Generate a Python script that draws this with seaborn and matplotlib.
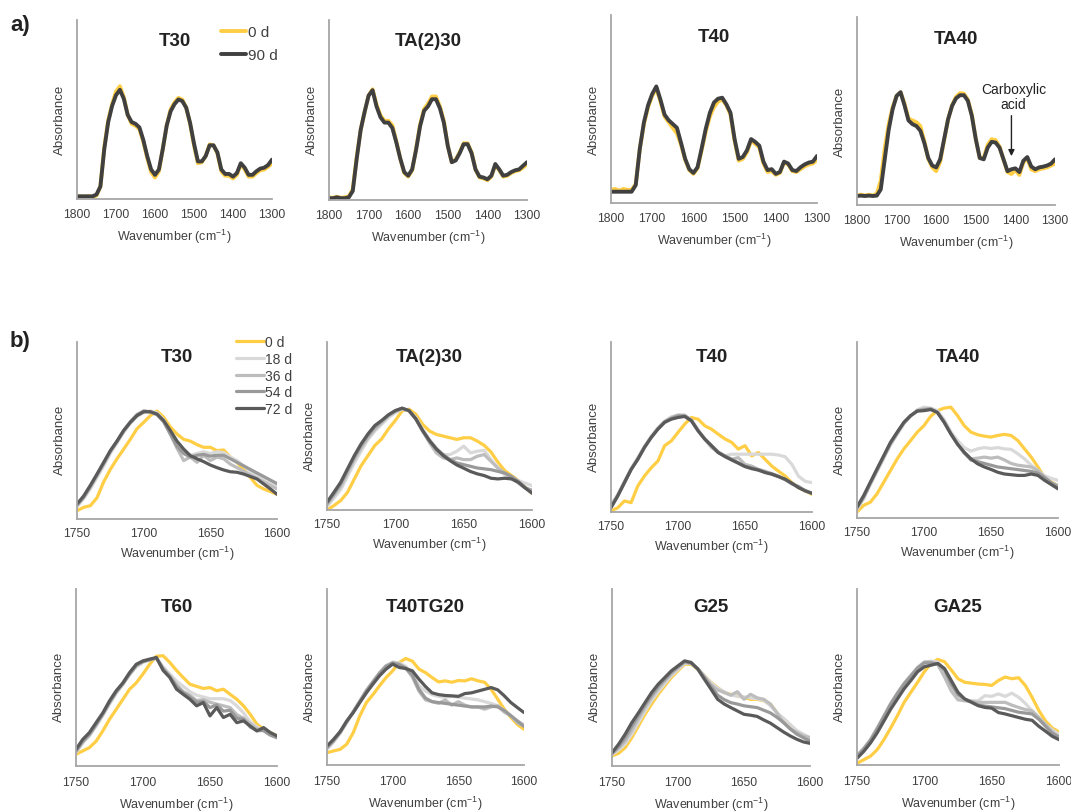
import numpy as np
import matplotlib
matplotlib.use("Agg")
import matplotlib.pyplot as plt
import seaborn as sns

# ---------------- data ----------------
WN_A = np.arange(1800, 1299, -10)   # panel a wavenumbers
WN_B = np.arange(1750, 1599, -5)    # panel b wavenumbers

TITLES_A = ["T30", "TA(2)30", "T40", "TA40"]
LABELS_A = ["0 d", "90 d"]

T30_0d = [0.015, 0.015, 0.012, 0.015, 0.012, 0.02, 0.07, 0.29, 0.44, 0.53, 0.60, 0.63, 0.57, 0.47, 0.42, 0.41, 0.39, 0.32, 0.23, 0.15, 0.12,
          0.155, 0.28, 0.41, 0.50, 0.54, 0.565, 0.555, 0.51, 0.42, 0.30, 0.20, 0.205, 0.24, 0.305, 0.30, 0.255, 0.155, 0.13, 0.13, 0.115,
          0.135, 0.195, 0.165, 0.125, 0.125, 0.145, 0.16, 0.165, 0.18, 0.20]
T30_90d = [0.015, 0.015, 0.015, 0.015, 0.015, 0.025, 0.07, 0.28, 0.43, 0.52, 0.58, 0.61, 0.56, 0.47, 0.43, 0.42, 0.40, 0.33, 0.24, 0.165, 0.135,
           0.165, 0.28, 0.41, 0.49, 0.53, 0.556, 0.547, 0.51, 0.425, 0.31, 0.21, 0.21, 0.24, 0.30, 0.30, 0.26, 0.165, 0.14, 0.14, 0.125,
           0.145, 0.20, 0.175, 0.135, 0.135, 0.155, 0.17, 0.175, 0.19, 0.22]
TA230_0d = [0.015, 0.012, 0.018, 0.012, 0.015, 0.02, 0.06, 0.24, 0.39, 0.49, 0.58, 0.615, 0.53, 0.47, 0.44, 0.44, 0.415, 0.325, 0.23, 0.15, 0.13,
            0.165, 0.285, 0.42, 0.505, 0.535, 0.575, 0.575, 0.52, 0.44, 0.30, 0.21, 0.225, 0.265, 0.315, 0.315, 0.265, 0.17, 0.125, 0.12, 0.11,
            0.13, 0.195, 0.165, 0.13, 0.135, 0.15, 0.16, 0.165, 0.18, 0.20]
TA230_90d = [0.01, 0.01, 0.015, 0.01, 0.01, 0.015, 0.05, 0.23, 0.39, 0.49, 0.58, 0.61, 0.52, 0.46, 0.43, 0.43, 0.40, 0.32, 0.23, 0.155, 0.135,
             0.17, 0.28, 0.41, 0.495, 0.52, 0.56, 0.56, 0.51, 0.43, 0.30, 0.21, 0.22, 0.26, 0.31, 0.31, 0.26, 0.17, 0.13, 0.125, 0.115,
             0.135, 0.20, 0.17, 0.135, 0.14, 0.155, 0.165, 0.17, 0.19, 0.21]
T40_0d = [0.07, 0.075, 0.065, 0.075, 0.07, 0.07, 0.10, 0.29, 0.42, 0.51, 0.57, 0.61, 0.54, 0.46, 0.43, 0.40, 0.37, 0.31, 0.23, 0.175, 0.155,
          0.185, 0.28, 0.38, 0.46, 0.51, 0.54, 0.55, 0.52, 0.47, 0.33, 0.225, 0.235, 0.27, 0.33, 0.315, 0.295, 0.21, 0.165, 0.17, 0.15,
          0.16, 0.215, 0.205, 0.17, 0.165, 0.18, 0.195, 0.205, 0.21, 0.23]
T40_90d = [0.06, 0.06, 0.06, 0.06, 0.06, 0.06, 0.095, 0.29, 0.43, 0.52, 0.58, 0.62, 0.55, 0.47, 0.44, 0.42, 0.40, 0.32, 0.235, 0.18, 0.16,
           0.19, 0.29, 0.395, 0.48, 0.535, 0.555, 0.56, 0.525, 0.48, 0.34, 0.235, 0.245, 0.28, 0.34, 0.325, 0.305, 0.22, 0.175, 0.18, 0.155,
           0.165, 0.22, 0.21, 0.175, 0.17, 0.19, 0.205, 0.215, 0.22, 0.25]
TA40_0d = [0.05, 0.055, 0.05, 0.055, 0.05, 0.06, 0.13, 0.30, 0.43, 0.52, 0.58, 0.60, 0.54, 0.46, 0.45, 0.44, 0.42, 0.34, 0.245, 0.2, 0.18,
           0.23, 0.345, 0.455, 0.53, 0.575, 0.595, 0.592, 0.56, 0.48, 0.35, 0.25, 0.25, 0.32, 0.35, 0.345, 0.31, 0.24, 0.175, 0.165, 0.185,
           0.16, 0.225, 0.25, 0.19, 0.18, 0.19, 0.195, 0.20, 0.21, 0.22]
TA40_90d = [0.048, 0.05, 0.048, 0.05, 0.048, 0.05, 0.083, 0.243, 0.40, 0.51, 0.58, 0.60, 0.53, 0.45, 0.43, 0.42, 0.395, 0.33, 0.25, 0.21, 0.20,
            0.243, 0.35, 0.456, 0.527, 0.567, 0.584, 0.584, 0.554, 0.474, 0.35, 0.25, 0.243, 0.305, 0.336, 0.332, 0.305, 0.243, 0.18, 0.19, 0.195,
            0.175, 0.235, 0.255, 0.205, 0.19, 0.20, 0.204, 0.21, 0.22, 0.243]

SERIES_A = [[T30_0d, T30_90d], [TA230_0d, TA230_90d], [T40_0d, T40_90d], [TA40_0d, TA40_90d]]

TITLES_B = ["T30", "TA(2)30", "T40", "TA40", "T60", "T40TG20", "G25", "GA25"]
LABELS_B = ["0 d", "18 d", "36 d", "54 d", "72 d"]

T30_b = [
    [0.047, 0.066, 0.075, 0.12, 0.21, 0.28, 0.34, 0.395, 0.45, 0.51, 0.546, 0.584, 0.61, 0.575, 0.52, 0.48, 0.45, 0.44, 0.42, 0.405, 0.405, 0.386, 0.39, 0.35, 0.32, 0.28, 0.235, 0.19, 0.17, 0.155, 0.14],
    [0.07, 0.115, 0.17, 0.235, 0.30, 0.37, 0.43, 0.49, 0.54, 0.58, 0.60, 0.61, 0.60, 0.56, 0.49, 0.43, 0.38, 0.36, 0.37, 0.38, 0.37, 0.38, 0.375, 0.35, 0.33, 0.30, 0.27, 0.245, 0.22, 0.20, 0.18],
    [0.075, 0.12, 0.18, 0.245, 0.31, 0.38, 0.435, 0.495, 0.545, 0.585, 0.61, 0.605, 0.59, 0.55, 0.48, 0.40, 0.33, 0.35, 0.32, 0.36, 0.33, 0.35, 0.34, 0.31, 0.29, 0.27, 0.25, 0.23, 0.21, 0.19, 0.17],
    [0.08, 0.125, 0.185, 0.25, 0.315, 0.385, 0.44, 0.50, 0.55, 0.59, 0.61, 0.605, 0.59, 0.55, 0.48, 0.41, 0.37, 0.35, 0.36, 0.365, 0.355, 0.36, 0.36, 0.34, 0.32, 0.30, 0.28, 0.26, 0.24, 0.22, 0.20],
    [0.085, 0.13, 0.19, 0.254, 0.32, 0.386, 0.44, 0.50, 0.546, 0.584, 0.606, 0.606, 0.593, 0.556, 0.50, 0.44, 0.395, 0.358, 0.34, 0.324, 0.305, 0.29, 0.277, 0.267, 0.264, 0.254, 0.24, 0.226, 0.198, 0.17, 0.14],
]
TA230_b = [
    [0.0, 0.026, 0.056, 0.105, 0.185, 0.264, 0.324, 0.384, 0.423, 0.483, 0.533, 0.59, 0.60, 0.57, 0.51, 0.47, 0.45, 0.44, 0.43, 0.42, 0.43, 0.43, 0.41, 0.385, 0.345, 0.285, 0.235, 0.205, 0.175, 0.135, 0.10],
    [0.02, 0.07, 0.12, 0.20, 0.28, 0.35, 0.42, 0.47, 0.51, 0.55, 0.58, 0.60, 0.59, 0.55, 0.48, 0.42, 0.37, 0.33, 0.33, 0.35, 0.38, 0.34, 0.35, 0.355, 0.30, 0.25, 0.21, 0.19, 0.175, 0.16, 0.145],
    [0.03, 0.085, 0.14, 0.22, 0.30, 0.37, 0.43, 0.48, 0.52, 0.56, 0.585, 0.605, 0.59, 0.545, 0.47, 0.40, 0.34, 0.31, 0.30, 0.31, 0.30, 0.30, 0.32, 0.33, 0.29, 0.25, 0.22, 0.19, 0.16, 0.13, 0.12],
    [0.04, 0.095, 0.155, 0.235, 0.315, 0.385, 0.445, 0.495, 0.53, 0.565, 0.59, 0.606, 0.59, 0.54, 0.47, 0.41, 0.36, 0.33, 0.30, 0.28, 0.27, 0.26, 0.25, 0.245, 0.24, 0.23, 0.22, 0.20, 0.17, 0.135, 0.11],
    [0.046, 0.105, 0.165, 0.245, 0.324, 0.394, 0.453, 0.503, 0.533, 0.567, 0.592, 0.606, 0.592, 0.543, 0.473, 0.413, 0.364, 0.324, 0.294, 0.268, 0.249, 0.229, 0.215, 0.205, 0.189, 0.185, 0.189, 0.185, 0.165, 0.131, 0.10],
]
T40_b = [
    [0.006, 0.025, 0.065, 0.055, 0.153, 0.212, 0.26, 0.30, 0.39, 0.418, 0.468, 0.517, 0.556, 0.546, 0.507, 0.487, 0.458, 0.43, 0.41, 0.37, 0.39, 0.33, 0.35, 0.31, 0.27, 0.24, 0.212, 0.173, 0.143, 0.124, 0.104],
    [0.04, 0.10, 0.18, 0.255, 0.32, 0.385, 0.445, 0.495, 0.535, 0.56, 0.57, 0.565, 0.54, 0.48, 0.43, 0.39, 0.355, 0.33, 0.34, 0.34, 0.34, 0.34, 0.34, 0.34, 0.34, 0.335, 0.325, 0.28, 0.21, 0.18, 0.173],
    [0.035, 0.10, 0.175, 0.25, 0.315, 0.385, 0.44, 0.49, 0.53, 0.555, 0.57, 0.57, 0.54, 0.48, 0.43, 0.38, 0.35, 0.33, 0.31, 0.32, 0.28, 0.27, 0.25, 0.24, 0.225, 0.21, 0.19, 0.17, 0.145, 0.125, 0.11],
    [0.03, 0.095, 0.17, 0.25, 0.31, 0.38, 0.44, 0.49, 0.53, 0.55, 0.565, 0.565, 0.54, 0.48, 0.43, 0.39, 0.35, 0.33, 0.31, 0.29, 0.27, 0.26, 0.25, 0.235, 0.225, 0.21, 0.19, 0.165, 0.15, 0.125, 0.11],
    [0.025, 0.094, 0.173, 0.25, 0.31, 0.38, 0.438, 0.487, 0.527, 0.546, 0.556, 0.562, 0.536, 0.477, 0.428, 0.39, 0.35, 0.326, 0.306, 0.287, 0.267, 0.255, 0.246, 0.232, 0.222, 0.208, 0.193, 0.169, 0.143, 0.124, 0.11],
]
TA40_b = [
    [0.034, 0.072, 0.09, 0.138, 0.204, 0.27, 0.336, 0.393, 0.44, 0.488, 0.525, 0.578, 0.61, 0.624, 0.63, 0.582, 0.525, 0.488, 0.473, 0.465, 0.46, 0.469, 0.475, 0.469, 0.44, 0.393, 0.346, 0.29, 0.232, 0.204, 0.185],
    [0.05, 0.11, 0.19, 0.265, 0.34, 0.415, 0.475, 0.535, 0.58, 0.615, 0.63, 0.625, 0.61, 0.56, 0.49, 0.44, 0.40, 0.38, 0.393, 0.40, 0.395, 0.40, 0.393, 0.39, 0.365, 0.336, 0.30, 0.27, 0.24, 0.225, 0.214],
    [0.055, 0.115, 0.195, 0.27, 0.345, 0.42, 0.48, 0.54, 0.58, 0.61, 0.62, 0.62, 0.60, 0.55, 0.48, 0.42, 0.37, 0.336, 0.34, 0.346, 0.34, 0.346, 0.33, 0.31, 0.30, 0.295, 0.29, 0.27, 0.232, 0.20, 0.185],
    [0.06, 0.12, 0.20, 0.275, 0.35, 0.425, 0.485, 0.54, 0.58, 0.61, 0.615, 0.62, 0.60, 0.545, 0.48, 0.42, 0.37, 0.33, 0.32, 0.31, 0.30, 0.29, 0.285, 0.28, 0.275, 0.27, 0.265, 0.255, 0.23, 0.20, 0.175],
    [0.062, 0.128, 0.204, 0.28, 0.355, 0.43, 0.488, 0.544, 0.582, 0.607, 0.61, 0.616, 0.60, 0.544, 0.478, 0.42, 0.374, 0.336, 0.308, 0.29, 0.276, 0.26, 0.25, 0.246, 0.242, 0.242, 0.25, 0.242, 0.214, 0.19, 0.166],
]
T60_b = [
    [0.066, 0.085, 0.104, 0.14, 0.198, 0.264, 0.32, 0.377, 0.434, 0.47, 0.52, 0.575, 0.62, 0.623, 0.585, 0.54, 0.50, 0.462, 0.45, 0.438, 0.443, 0.425, 0.434, 0.405, 0.377, 0.34, 0.292, 0.236, 0.208, 0.189, 0.17],
    [0.075, 0.13, 0.17, 0.225, 0.285, 0.35, 0.41, 0.46, 0.515, 0.56, 0.585, 0.60, 0.61, 0.56, 0.52, 0.48, 0.45, 0.42, 0.40, 0.39, 0.38, 0.38, 0.38, 0.37, 0.34, 0.30, 0.25, 0.22, 0.20, 0.18, 0.16],
    [0.08, 0.135, 0.175, 0.23, 0.29, 0.355, 0.415, 0.465, 0.52, 0.565, 0.59, 0.60, 0.61, 0.55, 0.51, 0.46, 0.42, 0.40, 0.37, 0.375, 0.36, 0.35, 0.34, 0.33, 0.29, 0.27, 0.24, 0.21, 0.20, 0.175, 0.16],
    [0.085, 0.14, 0.18, 0.235, 0.295, 0.36, 0.42, 0.465, 0.52, 0.57, 0.59, 0.60, 0.61, 0.55, 0.505, 0.45, 0.415, 0.39, 0.36, 0.365, 0.33, 0.345, 0.31, 0.315, 0.27, 0.265, 0.22, 0.20, 0.20, 0.175, 0.16],
    [0.094, 0.15, 0.189, 0.245, 0.30, 0.368, 0.425, 0.47, 0.528, 0.575, 0.594, 0.604, 0.613, 0.54, 0.50, 0.434, 0.405, 0.377, 0.34, 0.358, 0.283, 0.33, 0.274, 0.292, 0.245, 0.255, 0.226, 0.198, 0.217, 0.189, 0.17],
]
T40TG20_b = [
    [0.07, 0.08, 0.089, 0.118, 0.184, 0.279, 0.355, 0.40, 0.45, 0.497, 0.535, 0.583, 0.605, 0.59, 0.545, 0.525, 0.497, 0.472, 0.478, 0.47, 0.48, 0.478, 0.49, 0.478, 0.47, 0.43, 0.374, 0.317, 0.27, 0.23, 0.203],
    [0.09, 0.13, 0.18, 0.24, 0.30, 0.36, 0.42, 0.47, 0.52, 0.56, 0.585, 0.58, 0.56, 0.52, 0.45, 0.42, 0.40, 0.39, 0.385, 0.39, 0.385, 0.38, 0.375, 0.37, 0.36, 0.35, 0.336, 0.31, 0.28, 0.25, 0.23],
    [0.095, 0.135, 0.185, 0.245, 0.305, 0.365, 0.425, 0.475, 0.525, 0.565, 0.58, 0.575, 0.55, 0.50, 0.42, 0.37, 0.36, 0.35, 0.37, 0.34, 0.36, 0.34, 0.33, 0.33, 0.317, 0.33, 0.336, 0.30, 0.28, 0.24, 0.22],
    [0.10, 0.14, 0.185, 0.245, 0.30, 0.36, 0.42, 0.47, 0.52, 0.56, 0.58, 0.57, 0.55, 0.51, 0.43, 0.38, 0.36, 0.355, 0.35, 0.345, 0.34, 0.335, 0.33, 0.33, 0.33, 0.335, 0.33, 0.31, 0.28, 0.25, 0.22],
    [0.108, 0.146, 0.19, 0.25, 0.298, 0.355, 0.41, 0.46, 0.507, 0.545, 0.573, 0.554, 0.548, 0.535, 0.488, 0.446, 0.41, 0.40, 0.395, 0.393, 0.39, 0.406, 0.41, 0.42, 0.43, 0.44, 0.427, 0.393, 0.355, 0.326, 0.298],
]
G25_b = [
    [0.057, 0.072, 0.104, 0.16, 0.226, 0.292, 0.35, 0.405, 0.453, 0.50, 0.538, 0.575, 0.575, 0.547, 0.51, 0.472, 0.443, 0.415, 0.405, 0.396, 0.387, 0.377, 0.377, 0.368, 0.35, 0.30, 0.255, 0.217, 0.189, 0.17, 0.151],
    [0.065, 0.09, 0.125, 0.18, 0.245, 0.31, 0.37, 0.42, 0.465, 0.51, 0.545, 0.58, 0.58, 0.55, 0.51, 0.47, 0.44, 0.42, 0.40, 0.395, 0.39, 0.385, 0.38, 0.37, 0.34, 0.30, 0.27, 0.235, 0.20, 0.18, 0.16],
    [0.07, 0.10, 0.14, 0.20, 0.265, 0.33, 0.385, 0.435, 0.48, 0.52, 0.555, 0.585, 0.58, 0.55, 0.505, 0.46, 0.43, 0.415, 0.40, 0.42, 0.377, 0.405, 0.385, 0.377, 0.35, 0.30, 0.245, 0.21, 0.19, 0.17, 0.16],
    [0.07, 0.11, 0.16, 0.225, 0.285, 0.345, 0.40, 0.45, 0.49, 0.53, 0.56, 0.59, 0.58, 0.55, 0.50, 0.45, 0.40, 0.375, 0.358, 0.35, 0.34, 0.335, 0.33, 0.315, 0.30, 0.275, 0.245, 0.21, 0.18, 0.16, 0.14],
    [0.075, 0.123, 0.18, 0.245, 0.30, 0.358, 0.415, 0.462, 0.50, 0.538, 0.566, 0.594, 0.585, 0.547, 0.49, 0.434, 0.377, 0.35, 0.33, 0.311, 0.292, 0.287, 0.28, 0.26, 0.242, 0.217, 0.192, 0.17, 0.151, 0.136, 0.128],
]
GA25_b = [
    [0.01, 0.03, 0.05, 0.087, 0.144, 0.21, 0.28, 0.356, 0.413, 0.47, 0.53, 0.577, 0.60, 0.587, 0.54, 0.49, 0.47, 0.465, 0.46, 0.458, 0.452, 0.48, 0.50, 0.49, 0.496, 0.452, 0.385, 0.31, 0.25, 0.21, 0.188],
    [0.05, 0.09, 0.14, 0.20, 0.27, 0.34, 0.40, 0.455, 0.50, 0.55, 0.585, 0.59, 0.585, 0.54, 0.45, 0.38, 0.365, 0.365, 0.365, 0.394, 0.39, 0.404, 0.39, 0.408, 0.385, 0.35, 0.308, 0.27, 0.23, 0.20, 0.173],
    [0.055, 0.095, 0.145, 0.21, 0.28, 0.35, 0.41, 0.465, 0.51, 0.555, 0.585, 0.585, 0.57, 0.50, 0.42, 0.37, 0.365, 0.36, 0.356, 0.356, 0.356, 0.356, 0.356, 0.34, 0.327, 0.315, 0.308, 0.27, 0.23, 0.19, 0.154],
    [0.05, 0.09, 0.14, 0.205, 0.275, 0.345, 0.405, 0.46, 0.505, 0.55, 0.58, 0.58, 0.575, 0.54, 0.46, 0.40, 0.375, 0.36, 0.34, 0.335, 0.33, 0.325, 0.32, 0.31, 0.30, 0.295, 0.29, 0.26, 0.22, 0.18, 0.16],
    [0.038, 0.077, 0.125, 0.183, 0.25, 0.317, 0.375, 0.433, 0.48, 0.53, 0.558, 0.567, 0.577, 0.548, 0.48, 0.413, 0.375, 0.356, 0.337, 0.327, 0.323, 0.298, 0.29, 0.28, 0.27, 0.26, 0.254, 0.22, 0.192, 0.163, 0.144],
]
SERIES_B = [T30_b, TA230_b, T40_b, TA40_b, T60_b, T40TG20_b, G25_b, GA25_b]

TICKS_A = [1800, 1700, 1600, 1500, 1400, 1300]
TICKS_B = [1750, 1700, 1650, 1600]

# ---------------- style ----------------
COL_A = ["#FFCE45", "#404040"]
COL_B = ["#FFCE45", "#D9D9D9", "#BDBDBD", "#999999", "#5A5A5A"]
TXT = "#404040"
SPINE = "#A6A6A6"

sns.set_theme(style="white")
plt.rcParams["font.family"] = ["Liberation Sans", "DejaVu Sans"]
plt.rcParams["mathtext.fontset"] = "custom"
plt.rcParams["mathtext.rm"] = "Liberation Sans"
plt.rcParams["mathtext.it"] = "Liberation Sans:italic"

W, H = 1071, 812
fig = plt.figure(figsize=(W / 100, H / 100), dpi=100)


def add_ax(L, R, T, B):
    return fig.add_axes([L / W, 1 - B / H, (R - L) / W, (B - T) / H])


def style_ax(ax, title, ticks, xlim, title_off, hpx, tickpad, labpad):
    ax.set_xlim(*xlim)
    ax.set_ylim(0, 1)
    ax.set_xticks(ticks)
    ax.set_xticklabels([str(t) for t in ticks])
    ax.set_yticks([])
    ax.tick_params(axis="x", length=0, pad=tickpad, labelsize=8.7, labelcolor=TXT)
    for s in ["top", "right"]:
        ax.spines[s].set_visible(False)
    for s in ["left", "bottom"]:
        ax.spines[s].set_color(SPINE)
        ax.spines[s].set_linewidth(1.3)
    ax.set_xlabel("Wavenumber (cm$^{-1}$)", fontsize=9, color=TXT, labelpad=labpad)
    ax.set_ylabel("Absorbance", fontsize=9.5, color=TXT, labelpad=8, y=0.45)
    ax.text(0.5, 1 - title_off / hpx, title, transform=ax.transAxes, ha="center",
            va="center", fontsize=13.5, fontweight="bold", color="#222222")
    ax.set_facecolor("none")


# panel a
POS_A = [(77, 272, 21, 200), (329, 527, 21, 201), (611, 817, 16, 204), (857, 1055, 18, 206)]
axes_a = []
for i, (pos, title, series) in enumerate(zip(POS_A, TITLES_A, SERIES_A)):
    ax = add_ax(*pos)
    for vals, col, lab in zip(series, COL_A, LABELS_A):
        sns.lineplot(x=WN_A, y=vals, ax=ax, color=col, linewidth=2.8, label=lab,
                     legend=False, solid_joinstyle="round")
    style_ax(ax, title, TICKS_A, (1800, 1300), 21, pos[3] - pos[2], 6.5, 5)
    axes_a.append(ax)

h, l = axes_a[0].get_legend_handles_labels()
fig.legend(h, l, loc="upper left", bbox_to_anchor=(221 / W, 1 - 26 / H), frameon=False,
           fontsize=11, handlelength=1.65, handletextpad=0.1, labelspacing=0.62,
           borderpad=0, borderaxespad=0, labelcolor=TXT)

# annotation on TA40
axes_a[3].annotate("", xy=(1410, 0.245), xytext=(1410, 0.49),
                   arrowprops=dict(arrowstyle="-|>", color="#222222", lw=1.0, mutation_scale=9))
axes_a[3].text(1405, 0.575, "Carboxylic\nacid", ha="center", va="center", fontsize=10,
               color="#222222", linespacing=1.1)

# panel b
POS_B = [(77, 277, 343, 520), (327, 532, 343, 511), (611, 812, 343, 513), (857, 1058, 343, 519),
         (76, 277, 590, 767), (327, 524, 590, 766), (612, 810, 590, 767), (857, 1059, 590, 766)]
axes_b = []
for i, (pos, title, series) in enumerate(zip(POS_B, TITLES_B, SERIES_B)):
    ax = add_ax(*pos)
    for vals, col, lab in zip(series, COL_B, LABELS_B):
        sns.lineplot(x=WN_B, y=vals, ax=ax, color=col, linewidth=2.3, label=lab,
                     legend=False, solid_joinstyle="round")
    if i < 4:
        style_ax(ax, title, TICKS_B, (1750, 1600), 15, pos[3] - pos[2], 6, 3)
    else:
        style_ax(ax, title, TICKS_B, (1750, 1600), 18, pos[3] - pos[2], 7.5, 4.5)
    axes_b.append(ax)

h, l = axes_b[0].get_legend_handles_labels()
fig.legend(h, l, loc="upper left", bbox_to_anchor=(236 / W, 1 - 336 / H), frameon=False,
           fontsize=10, handlelength=2.0, handletextpad=0.1, labelspacing=0.2,
           borderpad=0, borderaxespad=0, labelcolor=TXT)

fig.text(10 / W, 1 - 26 / H, "a)", fontsize=16, fontweight="bold", va="center", color="#222222")
fig.text(10 / W, 1 - 342 / H, "b)", fontsize=16, fontweight="bold", va="center", color="#222222")

fig.savefig("out.png", dpi=100, facecolor="white")
